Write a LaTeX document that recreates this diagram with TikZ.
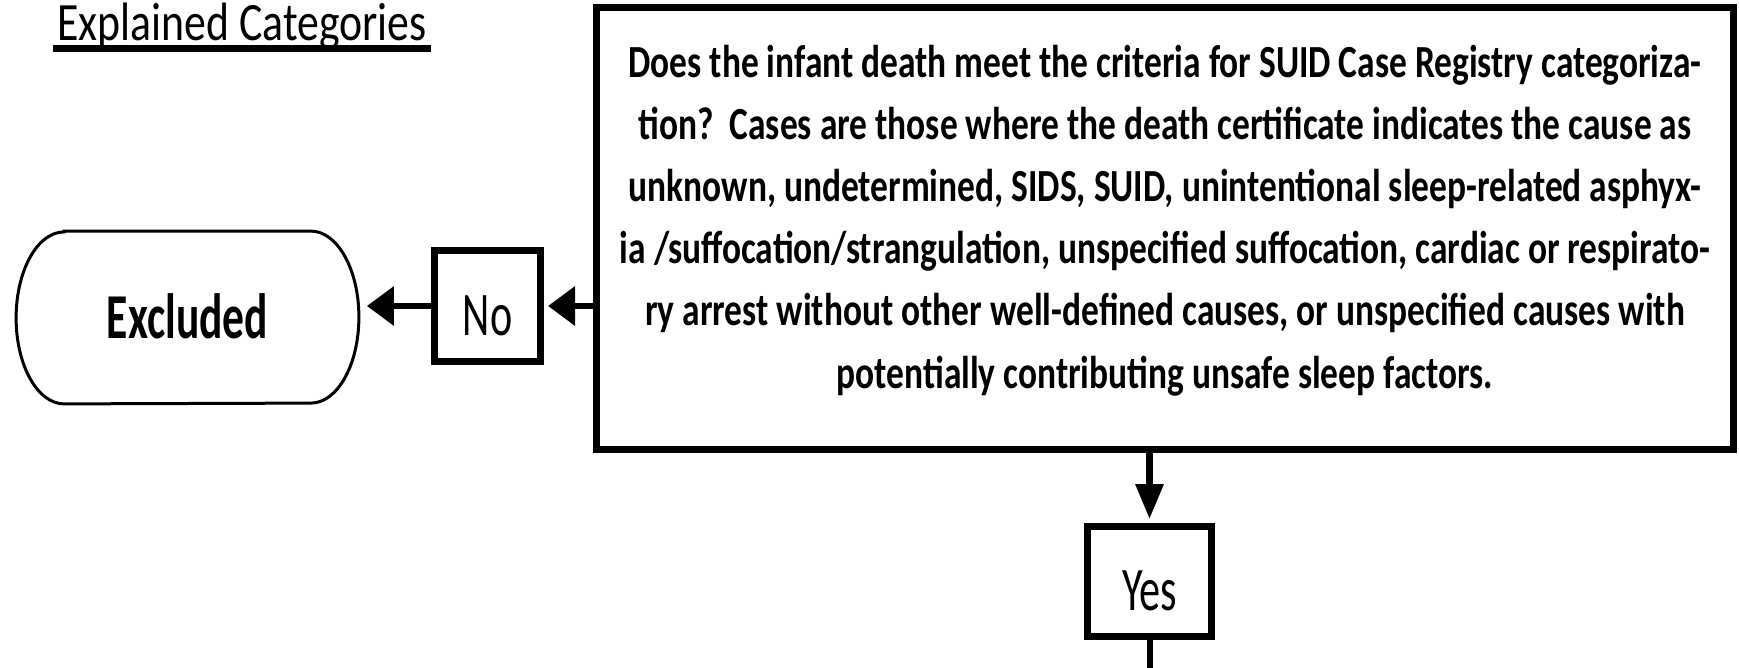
\documentclass[tikz,border=0pt]{standalone}
\usepackage{fontspec}
\setmainfont{Carlito}[FakeStretch=0.68]
\newfontfamily\critfont{Carlito}[FakeStretch=0.77]
\newfontfamily\titlefont{Carlito}[FakeStretch=0.81]
\usetikzlibrary{arrows.meta}

\begin{document}
\begin{tikzpicture}[x=0.5pt, y=-0.5pt,
    box/.style={draw, line width=3.5pt, inner sep=0pt},
    ans/.style={box, font=\fontsize{31pt}{37pt}\selectfont, text height=29pt, text depth=0pt},
    harr/.style={line width=3.2pt, -{Triangle[length=13.5pt, width=19pt]}},
    varr/.style={line width=3.2pt, -{Triangle[length=17.5pt, width=13.5pt]}}]
  \useasboundingbox (0,0) rectangle (1739,668);
  % heading
  \node[anchor=base west, inner xsep=2pt, font=\titlefont\fontsize{27pt}{32pt}\selectfont]
    (ttl) at (53,41) {Explained Categories};
  \draw[line width=3.5pt] ([yshift=-3.9pt]ttl.base west) -- ([yshift=-3.9pt]ttl.base east);
  % the question
  \node[box, minimum width=568.5pt, minimum height=221pt, align=center, text depth=12pt,
    font=\critfont\bfseries\fontsize{23pt}{31.1pt}\selectfont] (crit) at (1165,228.5)
    {Does the infant death meet the criteria for SUID Case Registry categoriza-\\
     tion?\ \ Cases are those where the death certificate indicates the cause as\\
     unknown, undetermined, SIDS, SUID, unintentional sleep-related asphyx-\\
     ia /suffocation/strangulation, unspecified suffocation, cardiac or respirato-\\
     ry arrest without other well-defined causes, or unspecified causes with\\
     potentially contributing unsafe sleep factors.};
  % answers
  \node[ans, minimum width=53pt, minimum height=55.5pt] (no) at (487.5,306) {No};
  \node[ans, minimum width=62pt, minimum height=55pt] (yes) at (1149.5,581.5) {Yes};
  % end point, drawn as a flat oval
  \node[font=\bfseries\fontsize{32pt}{38pt}\selectfont, minimum width=171pt, minimum height=86pt,
    inner sep=0pt, text height=21pt, text depth=0pt] (excl) at (187.5,317.5) {Excluded};
  \draw[line width=1.5pt] ([xshift=24pt]excl.north west) -- ([xshift=-24pt]excl.north east)
    arc[start angle=90, end angle=-90, x radius=24pt, y radius=43pt]
    -- ([xshift=24pt]excl.south west)
    arc[start angle=270, end angle=90, x radius=24pt, y radius=43pt] -- cycle;
  % connectors
  \draw[harr, shorten >=2pt] (crit.west |- no) -- (no);
  \draw[harr, shorten >=4pt] (no) -- (no -| excl.east);
  \draw[varr, shorten >=2pt] (crit.south -| yes) -- (yes);
  \coordinate (out) at (1149.5,672);
  \draw[line width=3pt] (yes) -- (out);
\end{tikzpicture}
\end{document}
